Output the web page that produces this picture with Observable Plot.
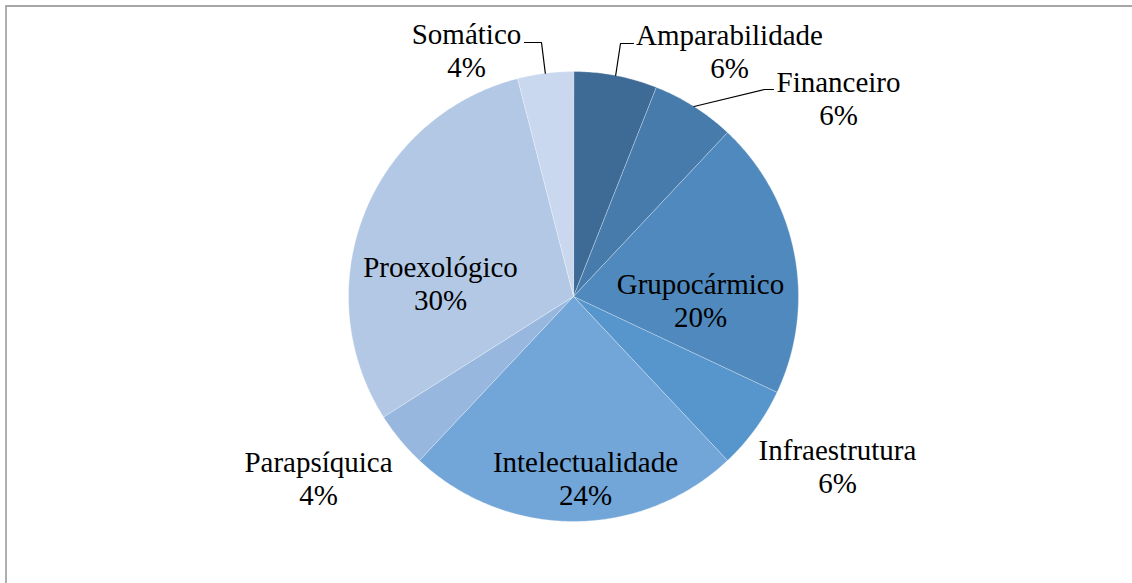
<!DOCTYPE html>
<html>
<head>
<meta charset="utf-8">
<script src="https://cdn.jsdelivr.net/npm/d3@7"></script>
<script src="https://cdn.jsdelivr.net/npm/@observablehq/plot@0.6"></script>
<style>
  html, body { margin: 0; padding: 0; background: #fff; }
</style>
</head>
<body>
<div id="chart"></div>
<script>
// ---- data ----
const categories = ["Amparabilidade", "Financeiro", "Grupocármico", "Infraestrutura", "Intelectualidade", "Parapsíquica", "Proexológico", "Somático"];
const percents = [6, 6, 20, 6, 24, 4, 30, 4];
const colors = ["#3e6b96", "#467bab", "#4f89bd", "#5696cc", "#72a5d8", "#97b7df", "#b2c8e5", "#c9d8ee"];

// ---- layout ----
const W = 1132, H = 583;
const cx = 573, cy = 296, R = 225;
const FS = 29, LINE = 33;
const SERIF = "Times New Roman";
// label block anchor (center x, baseline of first line) per category
const labelLayout = {
  "Amparabilidade": {x: 729, b: 44, leader: [[620, 43], [633, 43]]},
  "Financeiro": {x: 838, b: 91, leader: [[764, 89], [773, 89]]},
  "Grupocármico": {x: 700, b: 293},
  "Infraestrutura": {x: 837, b: 459},
  "Intelectualidade": {x: 585, b: 471},
  "Parapsíquica": {x: 318, b: 471},
  "Proexológico": {x: 440, b: 276},
  "Somático": {x: 466, b: 43, leader: [[541, 42], [524, 42]]}
};

const pie = d3.pie().sort(null).value(d => d)(percents);

// polygon points for each slice
const slicePts = [];
pie.forEach((p, i) => {
  const n = Math.max(8, Math.ceil((p.endAngle - p.startAngle) / 0.01));
  slicePts.push({name: categories[i], x: cx, y: cy});
  for (let k = 0; k <= n; k++) {
    const a = p.startAngle + (p.endAngle - p.startAngle) * k / n;
    slicePts.push({name: categories[i], x: cx + R * Math.sin(a), y: cy - R * Math.cos(a)});
  }
});

// leader lines from slice mid-angle on rim
const leaderPts = [];
pie.forEach((p, i) => {
  const L = labelLayout[categories[i]];
  if (!L.leader) return;
  const a = (p.startAngle + p.endAngle) / 2;
  leaderPts.push({name: categories[i], x: cx + R * Math.sin(a), y: cy - R * Math.cos(a)});
  L.leader.forEach(([x, y]) => leaderPts.push({name: categories[i], x, y}));
});

const nameLabels = categories.map(c => ({t: c, x: labelLayout[c].x, y: labelLayout[c].b - 0.32 * FS}));
const pctLabels = categories.map((c, i) => ({t: percents[i] + "%", x: labelLayout[c].x, y: labelLayout[c].b + LINE - 0.32 * FS}));

const chart = Plot.plot({
  width: W,
  height: H,
  margin: 0,
  x: {domain: [0, W], range: [0, W], axis: null},
  y: {domain: [0, H], range: [0, H], axis: null},
  color: {domain: categories, range: colors},
  marks: [
    Plot.ruleX([5.5], {y1: 5.5, y2: H, stroke: "#a6a6a6", strokeWidth: 1.8}),
    Plot.ruleY([5.5], {x1: 5.5, x2: W, stroke: "#a6a6a6", strokeWidth: 1.8}),
    Plot.line(slicePts, {x: "x", y: "y", z: "name", fill: "name", stroke: "white", strokeWidth: 0.6, strokeOpacity: 0.55, curve: "linear-closed"}),
    Plot.line(leaderPts, {x: "x", y: "y", z: "name", stroke: "black", strokeWidth: 1.2}),
    Plot.text(nameLabels, {x: "x", y: "y", text: "t", fontFamily: SERIF, fontSize: FS}),
    Plot.text(pctLabels, {x: "x", y: "y", text: "t", fontFamily: SERIF, fontSize: FS})
  ]
});
document.getElementById("chart").append(chart);
</script>
</body>
</html>
